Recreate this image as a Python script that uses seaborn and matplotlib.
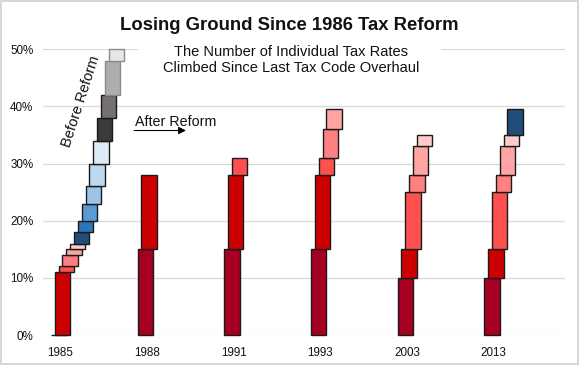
import matplotlib
matplotlib.use("Agg")
import matplotlib.pyplot as plt
from matplotlib.patches import Rectangle
import seaborn as sns

# ---- data ----
years = ["1985", "1988", "1991", "1993", "2003", "2013"]
rates_1985 = [0, 11, 12, 14, 15, 16, 18, 20, 23, 26, 30, 34, 38, 42, 48, 50]
rates_1988 = [15, 28]
rates_1991 = [15, 28, 31]
rates_1993 = [15, 28, 31, 36, 39.6]
rates_2003 = [10, 15, 25, 28, 33, 35]
rates_2013 = [10, 15, 25, 28, 33, 35, 39.6]
all_rates = [rates_1985, rates_1988, rates_1991, rates_1993, rates_2003, rates_2013]
y_ticks = [0, 0.1, 0.2, 0.3, 0.4, 0.5]

# ---- style ----
palette = ['#A50021', '#CC0000', '#FF5050', '#FF8080', '#FFA3A3', '#FFCCCC',
           '#1F4E79', '#2E75B6', '#5B9BD5', '#9DC3E6', '#C0D8EE', '#DEEBF7',
           '#3A3A3A', '#767171', '#AEAEAE', '#E6E6E6']
edges = ['#1a1a1a'] * 14 + ['#8A8A8A', '#8A8A8A']
STEP = 0.0445
BAR_W = 0.177

sns.set_theme(style="white")
plt.rcParams['font.family'] = ['Liberation Sans', 'DejaVu Sans']

fig = plt.figure(figsize=(5.79, 3.65), dpi=100)
W, H = 579, 365
ax = fig.add_axes([43 / W, 1 - 335 / H, (565 - 43) / W, (335 - 49.3) / H])

for g, rates in enumerate(all_rates):
    prev = 0.0
    for i, r in enumerate(rates):
        x = g + i * STEP
        sns.barplot(x=[x], y=[(r - prev) / 100], bottom=prev / 100,
                    native_scale=True, orient="x", width=BAR_W,
                    color=palette[i], saturation=1, edgecolor=edges[i],
                    linewidth=1.0, errorbar=None, ax=ax, clip_on=False)
        prev = r

ax.set_xlim(-0.179, 5.842)
ax.set_ylim(0, 0.5)
ax.set_xlabel("")
ax.set_ylabel("")
ax.set_yticks(y_ticks)
ax.set_yticklabels([f"{int(round(t * 100))}%" for t in y_ticks])
ax.set_xticks([g + 0.02 for g in range(len(years))])
ax.set_xticklabels(years)
ax.tick_params(axis='y', length=0, pad=7, labelsize=8.4, labelcolor='#111111')
ax.tick_params(axis='x', length=0, pad=8.5, labelsize=8.4, labelcolor='#111111')
ax.set_axisbelow(True)
ax.yaxis.grid(True, color='#D9D9D9', linewidth=0.9)
ax.xaxis.grid(False)
for s in ax.spines.values():
    s.set_visible(False)

# white strip behind subtitle over the 50% gridline
x0 = (138 - 58.5) / 86.7
x1 = (441 - 58.5) / 86.7
ax.add_patch(Rectangle((x0, 0.485), x1 - x0, 0.03, facecolor='white',
                       edgecolor='none', zorder=1, clip_on=False))

fig.text(0.5, 1 - 29.5 / H, "Losing Ground Since 1986 Tax Reform",
         ha='center', va='baseline', fontsize=13.3, fontweight='bold',
         color='#111111')
fig.text(291 / W, 1 - 45 / H,
         "The Number of Individual Tax Rates\nClimbed Since Last Tax Code Overhaul",
         ha='center', va='top', fontsize=10.5, color='#111111', linespacing=1.2)
fig.text(81 / W, 1 - 101 / H, "Before Reform", rotation=72,
         ha='center', va='center', rotation_mode='anchor', fontsize=10.5,
         color='#111111')
fig.text(135 / W, 1 - 126 / H, "After Reform", ha='left', va='baseline',
         fontsize=10.3, color='#111111')
ax.annotate('', xy=(186, H - 130.5), xytext=(134, H - 130.5),
            xycoords='figure pixels', textcoords='figure pixels',
            arrowprops=dict(arrowstyle='-|>', color='black', lw=0.8,
                            mutation_scale=11, shrinkA=0, shrinkB=0))

fig.patches.append(Rectangle((0.001, 0.002), 0.997, 0.995, transform=fig.transFigure,
                             fill=False, edgecolor='#D0D0D0', linewidth=1.2))

fig.savefig("out.png", dpi=100)
